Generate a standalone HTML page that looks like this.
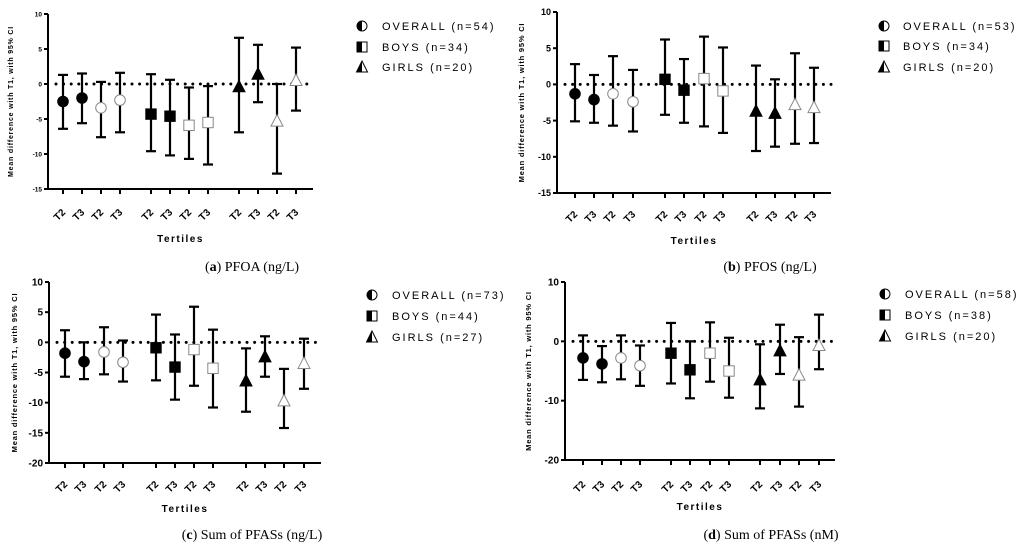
<!DOCTYPE html>
<html><head><meta charset="utf-8">
<style>
html,body{margin:0;padding:0;background:#fff;}
body{width:1024px;height:549px;overflow:hidden;}
svg{display:block;}
text{font-family:"Liberation Sans",sans-serif;}
.cap{font-family:"Liberation Serif",serif;font-size:14px;}
</style></head>
<body>
<svg id="fig" width="1024" height="549" viewBox="0 0 1024 549"></svg>
<script>
// Shared categories
const tickLabels = ["T2","T3","T2","T3","T2","T3","T2","T3","T2","T3","T2","T3"];
const seriesNames = ["overall","overall","overall-open","overall-open","boys","boys","boys-open","boys-open","girls","girls","girls-open","girls-open"];
// Panel a: PFOA
const aMean = [-2.5,-2.0,-3.4,-2.3,-4.3,-4.6,-5.9,-5.5,-0.4,1.4,-5.3,0.5];
const aLo   = [-6.4,-5.6,-7.6,-6.9,-9.6,-10.2,-10.7,-11.5,-6.9,-2.6,-12.8,-3.8];
const aHi   = [1.3,1.5,0.3,1.6,1.4,0.6,-0.5,-0.3,6.6,5.6,0.0,5.2];
const aYTicks = [10,5,0,-5,-10,-15];
const aLegend = ["OVERALL (n=54)","BOYS (n=34)","GIRLS (n=20)"];
// Panel b: PFOS
const bMean = [-1.3,-2.1,-1.3,-2.4,0.7,-0.8,0.8,-0.9,-3.7,-4.0,-2.8,-3.2];
const bLo   = [-5.1,-5.3,-5.7,-6.5,-4.2,-5.3,-5.8,-6.7,-9.2,-8.6,-8.2,-8.1];
const bHi   = [2.8,1.3,3.9,2.0,6.2,3.5,6.6,5.1,2.6,0.7,4.3,2.3];
const bYTicks = [10,5,0,-5,-10,-15];
const bLegend = ["OVERALL (n=53)","BOYS (n=34)","GIRLS (n=20)"];
// Panel c: Sum of PFASs (ng/L)
const cMean = [-1.8,-3.2,-1.6,-3.3,-0.9,-4.1,-1.2,-4.3,-6.4,-2.4,-9.7,-3.5];
const cLo   = [-5.7,-6.1,-5.3,-6.5,-6.3,-9.5,-7.2,-10.8,-11.5,-5.7,-14.2,-7.7];
const cHi   = [2.0,0.0,2.5,0.3,4.6,1.3,5.9,2.1,-1.0,1.0,-4.4,0.6];
const cYTicks = [10,5,0,-5,-10,-15,-20];
const cLegend = ["OVERALL (n=73)","BOYS (n=44)","GIRLS (n=27)"];
// Panel d: Sum of PFASs (nM)
const dMean = [-2.8,-3.8,-2.8,-4.1,-2.0,-4.8,-2.0,-5.0,-6.5,-1.6,-5.7,-0.7];
const dLo   = [-6.5,-6.9,-6.4,-7.5,-7.1,-9.6,-6.8,-9.5,-11.3,-5.5,-11.0,-4.7];
const dHi   = [1.0,-0.8,1.0,-0.7,3.1,0.0,3.2,0.6,-0.5,2.8,0.7,4.5];
const dYTicks = [10,0,-10,-20];
const dLegend = ["OVERALL (n=58)","BOYS (n=38)","GIRLS (n=20)"];

const NS="http://www.w3.org/2000/svg";
const svg=document.getElementById('fig');
function mk(tag,attrs,parent){const e=document.createElementNS(NS,tag);for(const k in attrs)e.setAttribute(k,attrs[k]);(parent||svg).appendChild(e);return e;}

const panels=[
 {id:'a',mean:aMean,lo:aLo,hi:aHi,ticks:aYTicks,legend:aLegend,ax:48,top:14,bot:189,ymax:10,ymin:-15,xend:313,
  xs:[63,82,101,120,151,170,189,208,239,258,277,296],tickY:213,tertY:242,capX:252,capY:271,cap:'PFOA (ng/L)',
  legX:362,legTX:382,legY:[26,47,67],tickFs:6.5,titleFs:7,yTitleX:13},
 {id:'b',mean:bMean,lo:bLo,hi:bHi,ticks:bYTicks,legend:bLegend,ax:557,top:12,bot:193,ymax:10,ymin:-15,xend:831,
  xs:[575,594,613,633,665,684,704,723,756,775,795,814],tickY:215,tertY:244,capX:770,capY:271,cap:'PFOS (ng/L)',
  legX:884,legTX:903,legY:[26,46,67],tickFs:9,titleFs:7.5,yTitleX:524},
 {id:'c',mean:cMean,lo:cLo,hi:cHi,ticks:cYTicks,legend:cLegend,ax:49,top:282,bot:463,ymax:10,ymin:-20,xend:321,
  xs:[65,84,104,123,156,175,194,213,246,265,284,304],tickY:485,tertY:512,capX:252,capY:539,cap:'Sum of PFASs (ng/L)',
  legX:372,legTX:392,legY:[295,316,337],tickFs:10,titleFs:7.5,yTitleX:17},
 {id:'d',mean:dMean,lo:dLo,hi:dHi,ticks:dYTicks,legend:dLegend,ax:565,top:282,bot:460,ymax:10,ymin:-20,xend:835,
  xs:[583,602,621,640,671,690,710,729,760,780,799,819],tickY:485,tertY:510,capX:771,capY:539,cap:'Sum of PFASs (nM)',
  legX:885,legTX:905,legY:[294,315,336],tickFs:10,titleFs:7.5,yTitleX:531}
];

function marker(g,shape,filled,x,y){
  const fill=filled?'#000':'#fff', st=filled?'#000':'#888';
  if(shape==='c') return mk('circle',{cx:x,cy:y,r:5.3,fill:fill,stroke:st,'stroke-width':1},g);
  if(shape==='s') return mk('rect',{x:x-5.2,y:y-5.2,width:10.4,height:10.4,fill:fill,stroke:st,'stroke-width':1},g);
  return mk('polygon',{points:`${x},${y-6.5} ${x-6},${y+5} ${x+6},${y+5}`,fill:fill,stroke:st,'stroke-width':1},g);
}

panels.forEach(p=>{
  const g=mk('g',{});
  
  
  const Y=v=>p.top+(p.ymax-v)/(p.ymax-p.ymin)*(p.bot-p.top);
  const ya=mk('line',{x1:p.ax,y1:p.top,x2:p.ax,y2:p.bot+1,stroke:'#000','stroke-width':2},g);
  
  const xa=mk('line',{x1:p.ax-1,y1:p.bot,x2:p.xend,y2:p.bot,stroke:'#000','stroke-width':2},g);
  
  p.ticks.forEach(t=>{
    const y=Y(t);
    mk('line',{x1:p.ax-4,y1:y,x2:p.ax,y2:y,stroke:'#000','stroke-width':2},g);
    const tl=mk('text',{x:p.ax-6,y:y+p.tickFs*0.35,'text-anchor':'end','font-size':p.tickFs,'font-weight':'bold'},g);
    tl.textContent=t;
    
  });
  const yc=(p.top+p.bot)/2;
  const yt=mk('text',{x:p.yTitleX,y:yc,'text-anchor':'middle','font-size':p.titleFs,'font-weight':'bold','letter-spacing':'0.8',transform:`rotate(-90 ${p.yTitleX} ${yc})`},g);
  yt.textContent='Mean difference with T1, with 95% CI';
  
  const z=mk('line',{x1:p.ax+8,y1:Y(0),x2:p.xend,y2:Y(0),stroke:'#000','stroke-width':3,'stroke-linecap':'round','stroke-dasharray':'0 7.6'},g);
  
  p.xs.forEach((x,i)=>{
    mk('line',{x1:x,y1:p.bot,x2:x,y2:p.bot+5,stroke:'#000','stroke-width':2},g);
    const tl=mk('text',{x:x+3,y:p.tickY,'text-anchor':'end','font-size':10,'font-weight':'bold',transform:`rotate(-45 ${x+3} ${p.tickY})`},g);
    tl.textContent=tickLabels[i];
    
    const eb=mk('g',{},g);
    
    
    const lo=Y(p.lo[i]),hi=Y(p.hi[i]);
    mk('line',{x1:x,y1:hi,x2:x,y2:lo,stroke:'#000','stroke-width':2.2},eb);
    mk('line',{x1:x-5,y1:hi,x2:x+5,y2:hi,stroke:'#000','stroke-width':2.2},eb);
    mk('line',{x1:x-5,y1:lo,x2:x+5,y2:lo,stroke:'#000','stroke-width':2.2},eb);
    const shape=['c','s','t'][Math.floor(i/4)];
    const filled=(i%4)<2;
    marker(eb,shape,filled,x,Y(p.mean[i]));
  });
  const tt=mk('text',{x:(p.ax+p.xend)/2,y:p.tertY,'text-anchor':'middle','font-size':10,'font-weight':'bold','letter-spacing':'1.5'},g);
  tt.textContent='Tertiles';
  
  p.legend.forEach((lab,k)=>{
    const lg=mk('g',{},g);
    
    const x=p.legX,y=p.legY[k];
    if(k===0){
      mk('circle',{cx:x,cy:y,r:5,fill:'#fff',stroke:'#000','stroke-width':1},lg);
      mk('path',{d:`M${x},${y-5} A5,5 0 0 0 ${x},${y+5} Z`,fill:'#000'},lg);
    }else if(k===1){
      mk('rect',{x:x-5,y:y-5,width:10,height:10,fill:'#fff',stroke:'#000','stroke-width':1},lg);
      mk('rect',{x:x-5,y:y-5,width:5,height:10,fill:'#000'},lg);
    }else{
      mk('polygon',{points:`${x},${y-6} ${x-5.5},${y+5} ${x+5.5},${y+5}`,fill:'#fff',stroke:'#000','stroke-width':1},lg);
      mk('polygon',{points:`${x},${y-6} ${x-5.5},${y+5} ${x},${y+5}`,fill:'#000'},lg);
    }
    const t=mk('text',{x:p.legTX,y:y+4,'font-size':11,'letter-spacing':'2'},lg);
    t.textContent=lab;
  });
  const c=mk('text',{x:p.capX,y:p.capY,'text-anchor':'middle',class:'cap'},g);
  
  const b=mk('tspan',{},c);b.textContent='(';
  const b2=mk('tspan',{'font-weight':'bold'},c);b2.textContent=p.id;
  const b3=mk('tspan',{},c);b3.textContent=') '+p.cap;
});
</script>
</body></html>
